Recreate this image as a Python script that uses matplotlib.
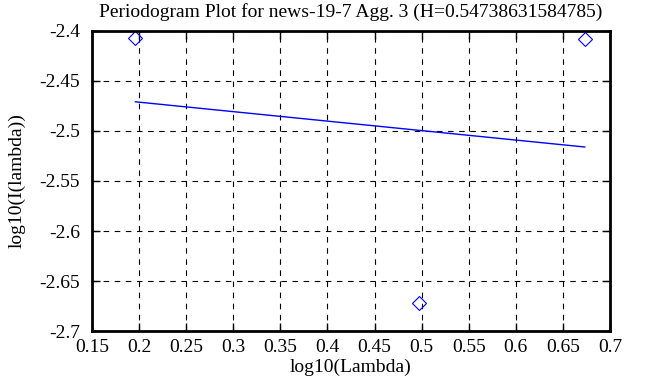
import matplotlib
matplotlib.use("Agg")
import matplotlib.pyplot as plt

plt.rcParams['font.family'] = ['Liberation Serif', 'DejaVu Serif']

# periodogram points (log10 lambda, log10 I(lambda))
log_lambda = [0.1961, 0.4971, 0.6732]
log_i = [-2.4073, -2.6720, -2.4077]

# fitted line end points
fit_x = [0.1961, 0.6732]
fit_y = [-2.4708, -2.5160]

x_ticks = [0.15, 0.2, 0.25, 0.3, 0.35, 0.4, 0.45, 0.5, 0.55, 0.6, 0.65, 0.7]
y_ticks = [-2.7, -2.65, -2.6, -2.55, -2.5, -2.45, -2.4]

fig = plt.figure(figsize=(6.47, 3.87), dpi=100)
ax = fig.add_axes([0.1422, 0.1447, 0.8006, 0.7752])

ax.plot(fit_x, fit_y, color='#0000ff', lw=1)
ax.plot(log_lambda, log_i, ls='none', marker='D', ms=7.5, mfc='none',
        mec='#0000ff', mew=0.8, clip_on=False)

ax.set_xlim(0.15, 0.7)
ax.set_ylim(-2.7, -2.4)
ax.set_xticks(x_ticks)
ax.set_xticklabels([f"{v:g}" for v in x_ticks])
ax.set_yticks(y_ticks)
ax.set_yticklabels([f"{v:g}" for v in y_ticks])
ax.grid(True, color='black', ls=(0, (5, 5)), lw=0.8)
ax.tick_params(direction='in', length=6, width=1, top=True, right=True,
               labelsize=14)
ax.tick_params(axis='x', pad=6)
ax.tick_params(axis='y', pad=8.5)
for s in ax.spines.values():
    s.set_linewidth(2)

ax.set_title("Periodogram Plot for news-19-7 Agg. 3 (H=0.54738631584785)",
             fontsize=14, pad=10)
ax.set_xlabel("log10(Lambda)", fontsize=14, labelpad=2)
ax.set_ylabel("log10(I(lambda))", fontsize=14, labelpad=10)

fig.savefig("out.png", dpi=100)
